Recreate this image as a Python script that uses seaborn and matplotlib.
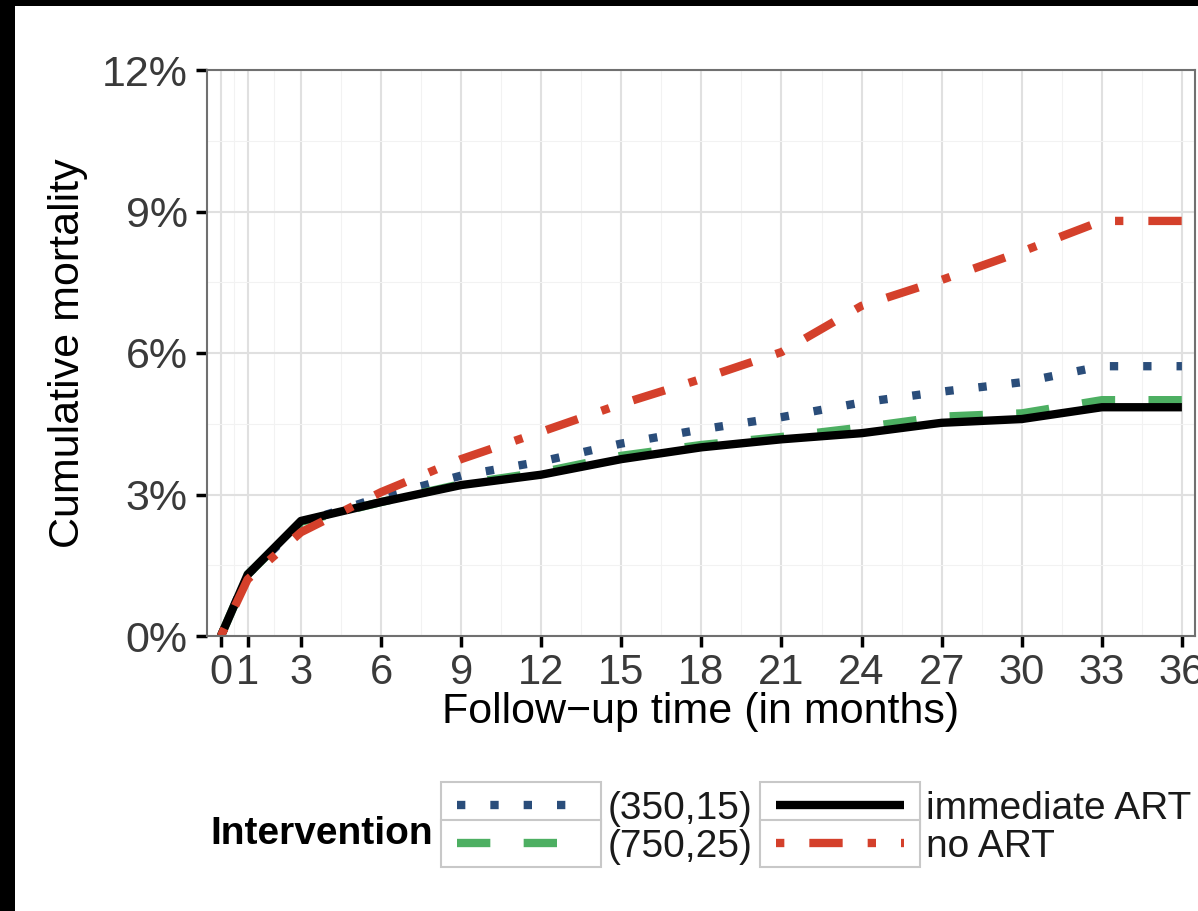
import matplotlib
matplotlib.use("Agg")
import matplotlib.pyplot as plt
import seaborn as sns
import pandas as pd
from matplotlib.patches import Rectangle
from matplotlib.ticker import FixedLocator

# ---- data ----
months = [0, 1, 3, 6, 9, 12, 15, 18, 21, 24, 27, 30, 33, 36]
mort_350_15 = [0, 1.30, 2.40, 2.95, 3.40, 3.70, 4.08, 4.38, 4.64, 4.95, 5.18, 5.38, 5.72, 5.72]
mort_750_25 = [0, 1.30, 2.42, 2.84, 3.22, 3.47, 3.82, 4.05, 4.22, 4.42, 4.65, 4.72, 5.00, 5.00]
mort_immediate = [0, 1.30, 2.44, 2.84, 3.20, 3.42, 3.75, 4.00, 4.17, 4.30, 4.52, 4.60, 4.85, 4.85]
mort_no_art = [0, 1.20, 2.20, 3.05, 3.75, 4.33, 4.92, 5.45, 6.02, 7.00, 7.55, 8.15, 8.80, 8.80]
groups = ["(350,15)", "(750,25)", "immediate ART", "no ART"]
x_ticks = [0, 1, 3, 6, 9, 12, 15, 18, 21, 24, 27, 30, 33, 36]
x_tick_labels = [str(v) for v in x_ticks]
y_ticks = [0, 3, 6, 9, 12]
y_tick_labels = ["0%", "3%", "6%", "9%", "12%"]

colors = {"(350,15)": "#2A4D7A", "(750,25)": "#4DAF62",
          "immediate ART": "#000000", "no ART": "#D4402B"}
dash_map = {"(350,15)": (1, 3), "(750,25)": (4, 4),
            "immediate ART": "", "no ART": (1, 3, 4, 3)}

df = pd.DataFrame({
    "month": months * 4,
    "mortality": mort_350_15 + mort_750_25 + mort_immediate + mort_no_art,
    "Intervention": sum([[g] * len(months) for g in groups], []),
})

sns.set_theme(style="whitegrid")
plt.rcParams["font.family"] = ["Liberation Sans", "DejaVu Sans"]
plt.rcParams["lines.solid_capstyle"] = "butt"
plt.rcParams["lines.dash_capstyle"] = "butt"

W, H = 1198, 911
fig = plt.figure(figsize=(W / 100, H / 100), dpi=100, facecolor="black")
fig.patches.append(Rectangle((15 / W, 0), 1, 1 - 6 / H, transform=fig.transFigure,
                             facecolor="white", edgecolor="none", zorder=-10))
ax = fig.add_axes([207 / W, 1 - 636 / H, (1195 - 207) / W, (636 - 70) / H])
ax.set_facecolor("white")

sns.lineplot(data=df, x="month", y="mortality", hue="Intervention", style="Intervention",
             hue_order=groups, style_order=groups, palette=colors, dashes=dash_map,
             linewidth=6.0, errorbar=None, legend=False, sort=False, ax=ax)

ax.set_xlim(-0.52, 36.49)
ax.set_ylim(0, 12)
ax.set_xticks(x_ticks)
ax.set_xticklabels(x_tick_labels)
ax.set_yticks(y_ticks)
ax.set_yticklabels(y_tick_labels)
x_minor = [(a + b) / 2 for a, b in zip(x_ticks[:-1], x_ticks[1:])]
y_minor = [(a + b) / 2 for a, b in zip(y_ticks[:-1], y_ticks[1:])]
ax.xaxis.set_minor_locator(FixedLocator(x_minor))
ax.yaxis.set_minor_locator(FixedLocator(y_minor))
ax.grid(which="major", color="#E0E0E0", linewidth=1.5)
ax.grid(which="minor", color="#F2F2F2", linewidth=0.8)
ax.set_axisbelow(True)
ax.tick_params(which="major", bottom=True, left=True, length=8, width=2.5, color="black",
               labelsize=31, labelcolor="#3A3A3A", pad=6, direction="out")
ax.tick_params(axis="x", which="major", labelsize=30, pad=4)
ax.tick_params(which="minor", length=0)
for sp in ax.spines.values():
    sp.set_visible(True)
    sp.set_color("#707070")
    sp.set_linewidth(1.5)

ax.set_xlabel("Follow\u2212up time (in months)", fontsize=31, color="black")
ax.xaxis.label.set_va("center")
ax.xaxis.set_label_coords(0.5, -0.135)
ax.set_ylabel("Cumulative mortality", fontsize=31, color="black")
ax.yaxis.set_label_coords(-0.12, 0.5)

leg = fig.legend(handles=ax.lines[:4], labels=groups, ncol=2, loc="upper left",
                 bbox_to_anchor=(457 / W, 1 - 791 / H), frameon=False, fontsize=28,
                 handlelength=3.3, handletextpad=0.57, columnspacing=0.60,
                 labelspacing=0.05, borderpad=0, borderaxespad=0)
for t in leg.get_texts():
    t.set_color("#1A1A1A")

fig.text(210 / W, 1 - 834 / H, "Intervention", fontsize=28, fontweight="bold",
         va="center", ha="left", color="black")

fig.canvas.draw()
renderer = fig.canvas.get_renderer()
for h in leg.legend_handles:
    bb = h.get_window_extent(renderer)
    cx = (bb.x0 + bb.x1) / 2
    cy = (bb.y0 + bb.y1) / 2
    fig.patches.append(Rectangle(((cx - 80) / W, (cy - 23.5) / H), 160 / W, 47 / H,
                                 transform=fig.transFigure, facecolor="white",
                                 edgecolor="#C8C8C8", linewidth=1.5, zorder=4))

fig.savefig("out.png", dpi=100, facecolor=fig.get_facecolor())
